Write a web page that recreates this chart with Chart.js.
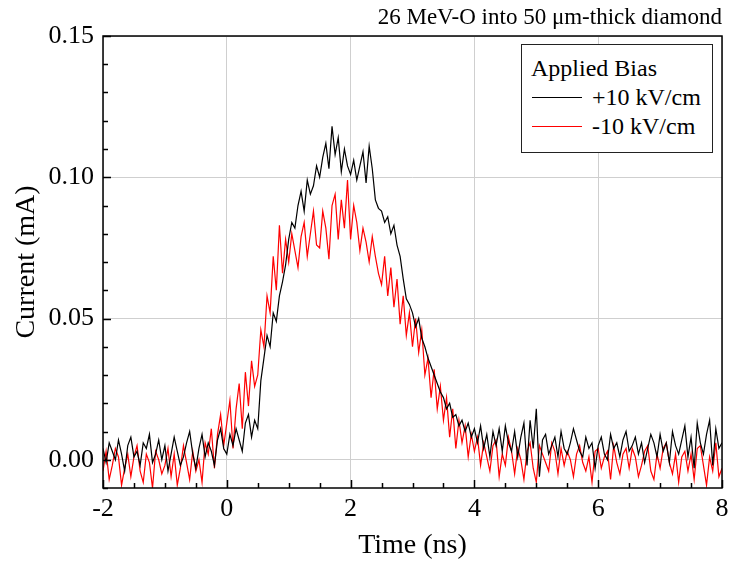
<!DOCTYPE html>
<html>
<head>
<meta charset="utf-8">
<script src="https://cdn.jsdelivr.net/npm/chart.js@4.4.1/dist/chart.umd.min.js"></script>
<style>
  body { margin: 0; background: #fff; }
  #wrap { position: relative; width: 729px; height: 565px; }
  #legend {
    position: absolute; left: 521px; top: 44px; width: 190px; height: 98px;
    border: 1px solid #222; background: #fff;
    font-family: 'Liberation Serif', 'Times New Roman', serif; font-size: 24px;
    line-height: 29px; padding-top: 9px; box-sizing: content-box;
  }
  #legend .ttl { padding-left: 9px; }
  #legend .row { display: flex; align-items: center; }
  #legend .swatch { width: 50px; margin-left: 10px; margin-right: 10px; }
</style>
</head>
<body>
<div id="wrap">
  <canvas id="grafico" width="729" height="565"></canvas>
  <div id="legend"></div>
</div>
<script>
// sample clock of the scope trace (ns)
var tStart = -2;
var tStep = 0.05;

var seriesNames = ['+10 kV/cm', '-10 kV/cm'];
var seriesColors = ['#000000', '#ff0000'];
var legendTitle = 'Applied Bias';
var plotTitle = '26 MeV-O into 50 \u03bcm-thick diamond';

// current (mA), +10 kV/cm
var plusBias = [
  0.004, -0.001, 0.006, 0.003, 0.000, 0.007, 0.002, -0.004, 0.005, 0.008,
  0.001, 0.003, -0.002, 0.006, 0.004, 0.009, -0.001, 0.002, 0.007, 0.000,
  0.005, -0.004, 0.002, 0.008, 0.003, -0.002, 0.001, 0.006, 0.010, 0.002,
  -0.003, 0.004, 0.009, 0.001, 0.006, 0.003, -0.002, 0.007, 0.011, 0.004,
  0.002, 0.009, 0.005, 0.011, 0.007, 0.003, 0.013, 0.016, 0.008, 0.014,
  0.011, 0.028, 0.036, 0.044, 0.040, 0.052, 0.049, 0.058, 0.063, 0.069,
  0.078, 0.084, 0.082, 0.090, 0.095, 0.088, 0.099, 0.094, 0.097, 0.104,
  0.100, 0.107, 0.112, 0.103, 0.118, 0.108, 0.114, 0.102, 0.110, 0.104,
  0.101, 0.106, 0.099, 0.104, 0.109, 0.098, 0.111, 0.103, 0.092, 0.089,
  0.088, 0.084, 0.086, 0.080, 0.083, 0.076, 0.072, 0.064, 0.057, 0.055,
  0.052, 0.047, 0.050, 0.043, 0.040, 0.036, 0.033, 0.030, 0.027, 0.024,
  0.022, 0.018, 0.020, 0.015, 0.016, 0.012, 0.014, 0.010, 0.013, 0.008,
  0.011, 0.006, 0.012, 0.004, 0.009, 0.001, 0.010, 0.005, 0.011, 0.003,
  0.012, 0.006, 0.003, 0.010, 0.001, 0.008, 0.013, -0.002, 0.014, 0.004,
  0.018, -0.006, 0.007, 0.009, 0.002, 0.005, 0.008, 0.001, 0.010, 0.004,
  0.002, 0.006, 0.011, 0.007, 0.003, 0.001, 0.008, 0.004, 0.006, -0.003,
  0.005, 0.008, 0.002, 0.000, 0.009, 0.004, 0.006, 0.001, 0.007, 0.010,
  0.003, 0.005, 0.008, 0.002, 0.006, -0.001, 0.004, 0.009, 0.006, 0.001,
  0.009, 0.003, 0.006, -0.001, 0.010, 0.005, 0.002, 0.007, 0.012, 0.001,
  0.008, -0.003, 0.013, 0.006, 0.002, 0.009, 0.014, -0.002, 0.011, 0.004,
  0.006
];

// current (mA), -10 kV/cm
var minusBias = [
  -0.004, 0.003, -0.007, -0.002, 0.004, 0.001, -0.009, -0.003, 0.002, -0.006,
  0.001, 0.005, -0.004, -0.008, 0.002, -0.001, -0.010, 0.003, 0.000, -0.005,
  -0.002, 0.004, -0.006, 0.002, -0.009, -0.003, 0.005, -0.001, -0.007, 0.003,
  -0.004, 0.000, -0.008, 0.006, 0.002, 0.011, -0.003, 0.009, 0.016, 0.005,
  0.013, 0.021, 0.004, 0.018, 0.027, 0.011, 0.031, 0.019, 0.035, 0.026,
  0.030, 0.046, 0.040, 0.058, 0.052, 0.072, 0.060, 0.083, 0.066, 0.078,
  0.070, 0.080, 0.074, 0.068, 0.079, 0.084, 0.072, 0.080, 0.088, 0.076,
  0.075, 0.088, 0.082, 0.071, 0.090, 0.094, 0.078, 0.092, 0.082, 0.099,
  0.078, 0.090, 0.084, 0.074, 0.082, 0.077, 0.070, 0.079, 0.072, 0.066,
  0.062, 0.072, 0.058, 0.068, 0.054, 0.064, 0.048, 0.058, 0.044, 0.052,
  0.040, 0.050, 0.038, 0.046, 0.030, 0.036, 0.022, 0.032, 0.018, 0.026,
  0.014, 0.022, 0.008, 0.018, 0.004, 0.014, 0.006, 0.012, 0.001, 0.009,
  0.003, 0.008, -0.002, 0.006, 0.001, -0.004, 0.005, 0.007, -0.006, 0.002,
  -0.002, 0.008, 0.003, -0.005, 0.004, 0.000, -0.007, 0.003, 0.006, -0.003,
  -0.008, 0.005, 0.002, -0.001, -0.004, 0.006, 0.003, -0.005, 0.004, -0.002,
  0.003, 0.000, -0.006, 0.002, 0.005, -0.001, -0.004, 0.001, -0.008, 0.003,
  0.004, -0.003, 0.001, 0.003, -0.007, 0.005, -0.001, -0.005, 0.002, 0.004,
  -0.003, 0.004, 0.001, -0.006, -0.002, 0.003, 0.005, -0.004, -0.007, 0.002,
  -0.003, 0.004, 0.006, -0.001, -0.005, 0.002, -0.008, 0.001, 0.003, -0.004,
  0.002, -0.007, 0.004, 0.005, -0.002, -0.009, 0.001, -0.004, 0.006, -0.006,
  -0.003
];

var xTicks = [-2, 0, 2, 4, 6, 8];
var yTicks = [0, 0.05, 0.10, 0.15];
var xMinorStep = 0.5;
var yMinorStep = 0.01;
var xMin = -2, xMax = 8, yMin = -0.01, yMax = 0.15;

var serif = "'Liberation Serif', 'Times New Roman', serif";

function toPoints(values) {
    return values.map(function (v, i) { return { x: tStart + i * tStep, y: v }; });
}

// inward ticks + closed frame, drawn over the traces
var frameTicks = {
    id: 'frameTicks',
    afterDatasetsDraw: function (chart) {
        var ctx = chart.ctx, a = chart.chartArea;
        var sx = chart.scales.x, sy = chart.scales.y;
        ctx.save();
        ctx.strokeStyle = '#000';
        ctx.lineWidth = 1.5;
        ctx.beginPath();
        var n = Math.round((xMax - xMin) / xMinorStep);
        for (var i = 0; i <= n; i++) {
            var v = xMin + i * xMinorStep;
            var len = (i % 4 === 0) ? 8 : 5;
            var px = Math.round(sx.getPixelForValue(v)) + 0.5;
            ctx.moveTo(px, a.bottom);
            ctx.lineTo(px, a.bottom - len);
        }
        var m = Math.round((yMax - yMin) / yMinorStep);
        for (var j = 0; j <= m; j++) {
            var w = yMin + j * yMinorStep;
            var major = Math.abs(w / 0.05 - Math.round(w / 0.05)) < 1e-6;
            var py = Math.round(sy.getPixelForValue(w)) + 0.5;
            ctx.moveTo(a.left, py);
            ctx.lineTo(a.left + (major ? 8 : 5), py);
        }
        ctx.stroke();
        ctx.strokeRect(a.left, a.top, a.right - a.left, a.bottom - a.top);
        ctx.fillStyle = '#000';
        ctx.font = '23px ' + serif;
        ctx.textAlign = 'right';
        ctx.textBaseline = 'middle';
        ctx.fillText(plotTitle, a.right, 18);
        ctx.restore();
    }
};

var ctx = document.getElementById('grafico').getContext('2d');
var grafico = new Chart(ctx, {
    type: 'line',
    data: {
        datasets: [{
            label: seriesNames[0],
            data: toPoints(plusBias),
            borderColor: seriesColors[0],
            borderWidth: 1.2,
            pointRadius: 0,
            tension: 0
        }, {
            label: seriesNames[1],
            data: toPoints(minusBias),
            borderColor: seriesColors[1],
            borderWidth: 1.2,
            pointRadius: 0,
            tension: 0
        }]
    },
    options: {
        responsive: false,
        animation: false,
        layout: { padding: { top: 36, right: 0, left: 0, bottom: 0 } },
        plugins: { legend: { display: false }, tooltip: { enabled: false } },
        scales: {
            x: {
                type: 'linear',
                min: xMin, max: xMax,
                afterBuildTicks: function (s) { s.ticks = xTicks.map(function (v) { return { value: v }; }); },
                afterFit: function (s) { s.height = 77; s.paddingLeft = 0; s.paddingRight = 7; },
                grid: { color: '#cfcfcf', lineWidth: 1, drawTicks: false },
                border: { display: false },
                ticks: {
                    color: '#000', padding: 6,
                    font: { family: serif, size: 26 },
                    maxRotation: 0,
                    callback: function (v) { return String(v); }
                },
                title: {
                    display: true, text: 'Time (ns)', color: '#000',
                    font: { family: serif, size: 28 },
                    padding: { top: 0, bottom: 3 }
                }
            },
            y: {
                min: yMin, max: yMax,
                afterBuildTicks: function (s) { s.ticks = yTicks.map(function (v) { return { value: v }; }); },
                afterFit: function (s) { s.width = 103; },
                grid: { color: '#cfcfcf', lineWidth: 1, drawTicks: false },
                border: { display: false },
                ticks: {
                    color: '#000', padding: 9,
                    font: { family: serif, size: 26 },
                    callback: function (v) { return Number(v).toFixed(2); }
                },
                title: {
                    display: true, text: 'Current (mA)', color: '#000',
                    font: { family: serif, size: 28 },
                    padding: { top: 10, bottom: 0 }
                }
            }
        }
    },
    plugins: [frameTicks]
});

// legend box built from the series names
var lg = document.getElementById('legend');
var html = '<div class="ttl">' + legendTitle + '</div>';
seriesNames.forEach(function (name, i) {
    html += '<div class="row"><span class="swatch" style="border-top:1.5px solid ' + seriesColors[i] + '"></span>' + name + '</div>';
});
lg.innerHTML = html;
</script>
</body>
</html>
